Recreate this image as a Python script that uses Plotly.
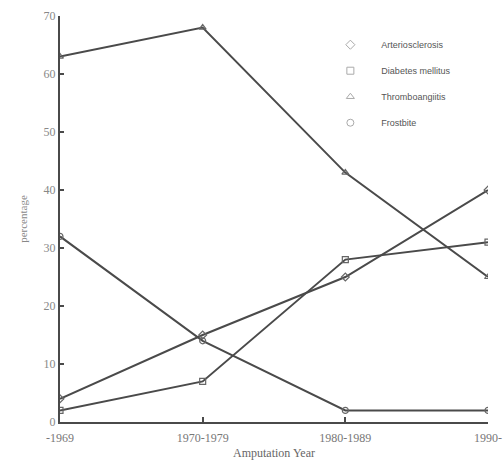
import plotly.graph_objects as go

periods = ["-1969", "1970-1979", "1980-1989", "1990-"]
arteriosclerosis = [4, 15, 25, 40]
diabetes = [2, 7, 28, 31]
thromboangiitis = [63, 68, 43, 25]
frostbite = [32, 14, 2, 2]

series = [
    ("Arteriosclerosis", arteriosclerosis, "diamond-open"),
    ("Diabetes mellitus", diabetes, "square-open"),
    ("Thromboangiitis", thromboangiitis, "triangle-up-open"),
    ("Frostbite", frostbite, "circle-open"),
]

xs = list(range(len(periods)))
line_col = "#4a4a4a"

fig = go.Figure()
for name, vals, sym in series:
    fig.add_trace(go.Scatter(
        x=xs, y=vals, mode="lines+markers", showlegend=False,
        line=dict(color=line_col, width=2),
        marker=dict(symbol=sym, size=6, color="#666", line=dict(width=1.2, color="#666")),
    ))
for i, (name, vals, sym) in enumerate(series):
    fig.add_trace(go.Scatter(
        x=[None], y=[None], mode="markers", name=name, legendgroup=str(i),
        marker=dict(symbol=sym, size=7, color="#aaa", line=dict(width=1, color="#aaa")),
    ))

serif = "Liberation Serif"
fig.update_layout(
    width=503, height=468,
    margin=dict(l=60, r=15, t=16, b=46, autoexpand=False),
    plot_bgcolor="white", paper_bgcolor="white",
    showlegend=True,
    legend=dict(x=0.606, y=0.965, xanchor="left", yanchor="top",
                font=dict(family="Liberation Sans", size=9, color="#555"),
                bgcolor="rgba(0,0,0,0)", tracegroupgap=7, traceorder="grouped",
                itemwidth=52),
    xaxis=dict(range=[0, 3], tickvals=xs, ticktext=periods, showgrid=False, zeroline=False,
               automargin=False,
               showline=True, linecolor=line_col, linewidth=2,
               ticks="inside", ticklen=5, tickcolor=line_col, tickwidth=2,
               ticklabelstandoff=4,
               tickfont=dict(family=serif, size=12, color="#777"),
               title=dict(text="Amputation Year", font=dict(family=serif, size=12, color="#666"), standoff=4)),
    yaxis=dict(range=[0, 70], tickvals=[0, 10, 20, 30, 40, 50, 60, 70], showgrid=False, zeroline=False,
               automargin=False,
               showline=True, linecolor=line_col, linewidth=2,
               ticks="inside", ticklen=4, tickcolor=line_col, tickwidth=2,
               tickfont=dict(family=serif, size=12, color="#888"),
               title=dict(text="percentage", font=dict(family=serif, size=11, color="#888"), standoff=14)),
)
fig.write_html("out.html")
